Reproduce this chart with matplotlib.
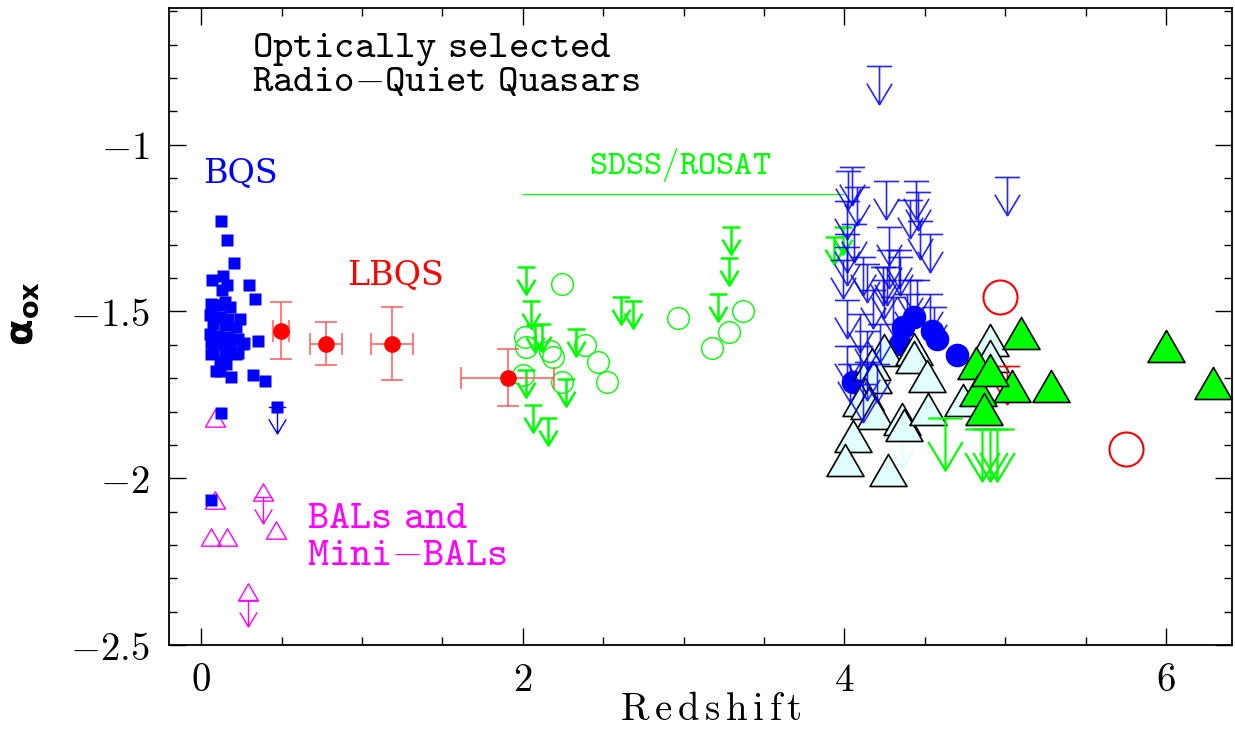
import matplotlib
matplotlib.use("Agg")
import matplotlib.pyplot as plt
from matplotlib.path import Path
from matplotlib.ticker import MultipleLocator, FuncFormatter

# --- BQS (blue squares) ---
bqs_z = [0.126, 0.163, 0.207, 0.070, 0.136, 0.160, 0.300, 0.132, 0.333, 0.146,
         0.084, 0.356, 0.264, 0.229, 0.063, 0.120, 0.186, 0.325, 0.397, 0.121,
         0.063, 0.063, 0.115, 0.177, 0.053, 0.115, 0.167, 0.240, 0.074, 0.146,
         0.219, 0.053, 0.105, 0.167, 0.229, 0.063, 0.115, 0.188, 0.260, 0.074,
         0.146, 0.219, 0.115, 0.157, 0.094, 0.472]
bqs_aox = [-1.228, -1.285, -1.355, -1.405, -1.395, -1.422, -1.420, -1.437, -1.463, -1.472,
           -1.482, -1.588, -1.595, -1.625, -1.627, -1.677, -1.695, -1.690, -1.709, -1.805,
           -2.064, -1.477, -1.482, -1.487, -1.512, -1.517, -1.522, -1.522, -1.537, -1.542,
           -1.547, -1.567, -1.572, -1.577, -1.582, -1.592, -1.597, -1.602, -1.597, -1.622,
           -1.627, -1.627, -1.647, -1.657, -1.677, -1.787]
bqs_lim_z = [0.472]
bqs_lim_aox = [-1.787]

# --- BALs and mini-BALs (magenta) ---
bal_z = [0.086, 0.385, 0.086, 0.468, 0.063, 0.160, 0.291]
bal_aox = [-1.818, -2.041, -2.066, -2.156, -2.176, -2.176, -2.340]
bal_lim_z = [0.385, 0.291]
bal_lim_aox = [-2.056, -2.365]

# --- LBQS (red, binned) ---
lbqs_z = [0.499, 0.775, 1.185, 1.907]
lbqs_aox = [-1.557, -1.596, -1.596, -1.698]
lbqs_zerr = [0.05, 0.10, 0.13, 0.29]
lbqs_aerr = [0.085, 0.065, 0.11, 0.085]

# --- SDSS/ROSAT (green) ---
sr_z = [2.241, 2.963, 3.371, 3.284, 3.179, 2.013, 2.023, 2.169, 2.190, 2.386,
        2.469, 2.525, 2.241, 2.003]
sr_aox = [-1.419, -1.519, -1.500, -1.560, -1.610, -1.577, -1.607, -1.617, -1.637, -1.600,
          -1.650, -1.710, -1.710, -1.689]
sr_lim_z = [2.018, 2.050, 2.117, 2.075, 2.330, 2.610, 2.687, 3.293, 3.284, 3.216,
            2.023, 2.268, 2.065, 2.154, 3.935, 3.994]
sr_lim_aox = [-1.367, -1.469, -1.539, -1.542, -1.552, -1.457, -1.470, -1.248, -1.339, -1.449,
              -1.674, -1.702, -1.780, -1.820, -1.277, -1.248]

# --- z > 4 samples ---
hz_lim_z = [4.216, 5.010, 4.046, 4.025, 4.260, 4.447, 4.457, 4.077, 4.410, 4.470,
            4.015, 4.275, 4.535, 4.015, 4.015, 4.118, 4.280, 4.340, 4.240, 3.994,
            4.139, 4.264, 4.347, 4.450, 4.015, 4.098, 4.180, 4.243, 4.305, 4.388,
            4.533, 4.015, 4.098, 4.139, 4.222, 4.035, 4.139, 4.201, 4.118, 4.410,
            4.554, 4.060]
hz_lim_aox = [-0.763, -1.098, -1.066, -1.078, -1.108, -1.108, -1.141, -1.126, -1.166, -1.228,
              -1.168, -1.248, -1.267, -1.267, -1.307, -1.337, -1.317, -1.317, -1.367, -1.347,
              -1.357, -1.367, -1.337, -1.407, -1.467, -1.507, -1.437, -1.407, -1.457, -1.447,
              -1.447, -1.602, -1.602, -1.557, -1.537, -1.657, -1.652, -1.657, -1.717, -1.407,
              -1.487, -1.237]

hz_circ_z = [4.430, 4.367, 4.544, 4.575, 4.347, 4.700, 4.056]
hz_circ_aox = [-1.517, -1.547, -1.557, -1.582, -1.597, -1.629, -1.712]

hz_open_z = [4.243, 4.430, 4.434, 4.513, 4.170, 4.180, 4.130, 4.100, 4.150, 4.190,
             4.357, 4.370, 4.517, 4.737, 4.907, 4.907, 4.056, 4.004, 4.268]
hz_open_aox = [-1.614, -1.612, -1.635, -1.692, -1.657, -1.697, -1.747, -1.764, -1.775, -1.804,
               -1.823, -1.840, -1.793, -1.764, -1.584, -1.632, -1.873, -1.945, -1.974]
hz_open_lim_z = [4.357]
hz_open_lim_aox = [-1.876]

hz_fill_z = [5.099, 6.000, 6.290, 5.282, 5.042, 4.820, 4.830, 4.865, 4.905]
hz_fill_aox = [-1.564, -1.604, -1.714, -1.724, -1.724, -1.655, -1.734, -1.793, -1.675]
hz_glim_z = [4.627, 4.855, 4.907, 4.948]
hz_glim_aox = [-1.819, -1.851, -1.851, -1.851]

hz_red_z = [4.969, 5.753]
hz_red_aox = [-1.457, -1.911]
hz_rlim_z = [5.010]
hz_rlim_aox = [-1.662]


def arrow_marker(w=0.33, head=0.55):
    """Upper-limit symbol: bar at the value, arrow pointing down."""
    verts = [(-w, 0), (w, 0), (0, 0), (0, -1), (-w, -1 + head), (0, -1), (w, -1 + head)]
    codes = [Path.MOVETO, Path.LINETO, Path.MOVETO, Path.LINETO,
             Path.MOVETO, Path.LINETO, Path.LINETO]
    return Path(verts, codes)


def tt(*lines):
    # spaced typewriter-like label text (cmtt), one math block per line
    out = []
    for s in lines:
        s = s.replace(' ', r'\ ').replace('-', '{-}')
        out.append(r'$\mathtt{' + s + '}$')
    return '\n'.join(out)


def main():
    plt.rcParams['font.family'] = 'DejaVu Serif'
    plt.rcParams['mathtext.fontset'] = 'cm'

    arrow = arrow_marker()
    tri = Path([(0, 0.866), (-1, -0.866), (1, -0.866), (0, 0.866)], closed=True)

    fig = plt.figure(figsize=(12.35, 7.33), dpi=100)
    ax = fig.add_axes([169 / 1235, 88 / 733, 1063 / 1235, 637 / 733])

    # BALs
    ax.plot(bal_z, bal_aox, ls='none', marker=tri, ms=14.4, mfc='none',
            mec='#ff00ff', mew=1.0, zorder=3)
    ax.plot(bal_lim_z, bal_lim_aox, ls='none', marker=arrow, ms=38, mfc='none',
            mec='#ff00ff', mew=1.0, zorder=3)

    # BQS
    ax.plot(bqs_z, bqs_aox, ls='none', marker='s', ms=8.6, color='#0000ff',
            mec='none', zorder=4)
    ax.plot(bqs_lim_z, bqs_lim_aox, ls='none', marker=arrow, ms=38, mfc='none',
            mec='#0000ff', mew=1.0, zorder=4)

    # LBQS
    ax.errorbar(lbqs_z, lbqs_aox, xerr=lbqs_zerr, yerr=lbqs_aerr, fmt='o', ms=11,
                color='#ff0000', ecolor='#ff5a5a', elinewidth=1.1, capsize=8,
                capthick=1.1, zorder=5)

    # SDSS/ROSAT
    ax.plot(sr_z, sr_aox, ls='none', marker='o', ms=15.6, mfc='none',
            mec='#00ff00', mew=1.0, zorder=4)
    ax.plot(sr_lim_z, sr_lim_aox, ls='none', marker=arrow, ms=39, mfc='none',
            mec='#00ff00', mew=1.8, zorder=4)
    ax.plot([2.0, 3.99], [-1.147, -1.147], color='#00ff00', lw=0.9, zorder=2)

    # z > 4
    ax.plot(hz_open_lim_z, hz_open_lim_aox, ls='none', marker=arrow, ms=45, mfc='none',
            mec='#dcffff', mew=1.5, zorder=2)
    ax.plot(hz_circ_z, hz_circ_aox, ls='none', marker='o', ms=17, color='#0000ff',
            mec='none', zorder=3)
    ax.plot(hz_open_z, hz_open_aox, ls='none', marker=tri, ms=26.6, mfc='#e2ffff',
            mec='black', mew=1.2, zorder=4)
    ax.plot(hz_lim_z, hz_lim_aox, ls='none', marker=arrow, ms=55, mfc='none',
            mec='#0000ff', mew=1.2, alpha=0.85, zorder=5)
    ax.plot(hz_rlim_z, hz_rlim_aox, ls='none', marker=arrow, ms=55, mfc='none',
            mec='#ff0000', mew=1.2, zorder=5)
    ax.plot(hz_fill_z, hz_fill_aox, ls='none', marker=tri, ms=26.6, mfc='#00ff00',
            mec='black', mew=1.2, zorder=6)
    ax.plot(hz_glim_z, hz_glim_aox, ls='none', marker=arrow, ms=75, mfc='none',
            mec='#00ff00', mew=1.6, zorder=6)
    ax.plot(hz_red_z, hz_red_aox, ls='none', marker='o', ms=24.5, mfc='none',
            mec='#ff0000', mew=1.5, zorder=6)

    # labels inside the plot
    ax.text(0.314, -0.762, tt('Optically selected', 'Radio-Quiet Quasars'), fontsize=28,
            va='center', ha='left', linespacing=0.8)
    ax.text(0.01, -1.084, 'BQS', fontsize=24, color='#0000ff', va='center', ha='left')
    ax.text(0.906, -1.392, 'LBQS', fontsize=24, color='#ff0000', va='center', ha='left')
    ax.text(2.977, -1.06, tt('SDSS/ROSAT'), fontsize=25, color='#00ff00',
            va='center', ha='center')
    ax.text(0.656, -2.172, tt('BALs and', 'Mini-BALs'), fontsize=29, color='#ff00ff',
            va='center', ha='left', linespacing=1.0)

    ax.set_xlim(-0.2, 6.41)
    ax.set_ylim(-2.5, -0.59)

    ax.xaxis.set_major_locator(MultipleLocator(2))
    ax.xaxis.set_minor_locator(MultipleLocator(0.5))
    ax.yaxis.set_major_locator(MultipleLocator(0.5))
    ax.yaxis.set_minor_locator(MultipleLocator(0.1))
    fmt = FuncFormatter(lambda v, p: r'$%g$' % v)
    ax.xaxis.set_major_formatter(fmt)
    ax.yaxis.set_major_formatter(fmt)
    ax.tick_params(which='both', direction='in', top=True, right=True, width=1.0)
    ax.tick_params(which='major', length=12.5, labelsize=28)
    ax.tick_params(which='minor', length=6)
    ax.tick_params(axis='x', pad=12)
    ax.tick_params(axis='y', pad=14)
    for s in ax.spines.values():
        s.set_linewidth(1.3)

    ax.set_xlabel(r'$\mathrm{R\,e\,d\,s\,h\,i\,f\,t}$', fontsize=28, va='baseline')
    ax.xaxis.set_label_coords(0.51, -0.1177)
    ax.set_ylabel('\u03b1$_{\\mathbf{ox}}$', fontsize=28, fontweight='bold',
                  fontfamily='DejaVu Sans', math_fontfamily='dejavusans')
    ax.yaxis.set_label_coords(-0.12, 0.52)

    fig.savefig('out.png', dpi=100)


if __name__ == "__main__":
    main()
